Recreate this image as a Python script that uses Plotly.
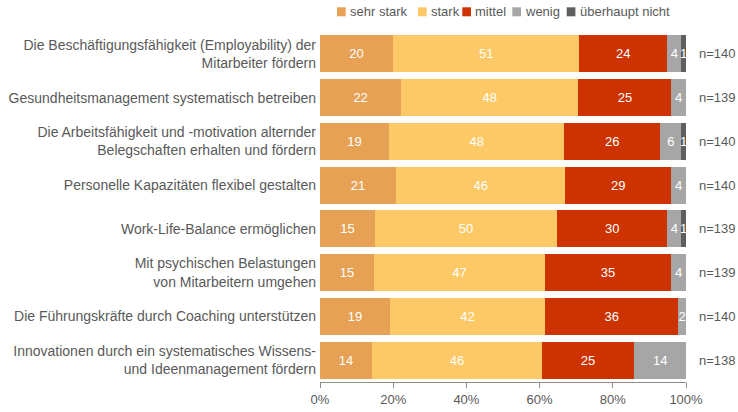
import plotly.graph_objects as go

categories = [
    "Die Beschäftigungsfähigkeit (Employability) der<br>Mitarbeiter fördern",
    "Gesundheitsmanagement systematisch betreiben",
    "Die Arbeitsfähigkeit und -motivation alternder<br>Belegschaften erhalten und fördern",
    "Personelle Kapazitäten flexibel gestalten",
    "Work-Life-Balance ermöglichen",
    "Mit psychischen Belastungen<br>von Mitarbeitern umgehen",
    "Die Führungskräfte durch Coaching unterstützen",
    "Innovationen durch ein systematisches Wissens-<br>und Ideenmanagement fördern",
]
series_names = ["sehr stark", "stark", "mittel", "wenig", "überhaupt nicht"]
sehr_stark = [20.0, 22.2, 18.9, 20.8, 15.0, 14.8, 19.1, 14.2]
stark = [50.8, 48.4, 47.8, 46.2, 49.8, 46.6, 42.4, 46.4]
mittel = [24.1, 25.4, 26.3, 29.0, 30.1, 34.6, 36.4, 25.3]
wenig = [3.8, 4.0, 5.7, 4.0, 3.8, 4.0, 2.1, 14.1]
ueberhaupt_nicht = [1.3, None, 1.3, None, 1.3, None, None, None]
n_values = [140, 139, 140, 140, 139, 139, 140, 138]
tick_values = [0, 20, 40, 60, 80, 100]
tick_labels = ["0%", "20%", "40%", "60%", "80%", "100%"]

colors = ["#E6A155", "#FDC966", "#CC3300", "#A6A6A6", "#5F5F5F"]
series = [sehr_stark, stark, mittel, wenig, ueberhaupt_nicht]

FONT = "Liberation Sans, Arial, sans-serif"
GREY = "#595959"

W, H = 738, 412
ML, MR, MT, MB = 320, 52, 32, 30
PW = W - ML - MR
PH = H - MT - MB

fig = go.Figure()
for name, vals, col in zip(series_names, series, colors):
    fig.add_trace(go.Bar(
        y=categories, x=vals, name=name, orientation="h",
        marker=dict(color=col, line=dict(width=0)),
        texttemplate="%{x:.0f}", textposition="inside",
        insidetextanchor="middle",
        textfont=dict(color="white", size=13, family=FONT),
        showlegend=False, hoverinfo="x+name",
    ))

# n= annotations
for cat, n in zip(categories, n_values):
    fig.add_annotation(x=1.03, xref="paper", y=cat, yref="y", text=f"n={n}",
                       showarrow=False, xanchor="left",
                       font=dict(size=13, color=GREY, family=FONT))

# custom legend (pixel layout)
def px_x(p):
    return (p - ML) / PW

def px_y(p):
    return (H - MB - p) / PH

legend_px = [337, 418, 462.3, 512.3, 566.7]
for name, col, lx in zip(series_names, colors, legend_px):
    fig.add_shape(type="rect", xref="paper", yref="paper",
                  x0=px_x(lx), x1=px_x(lx + 8.7), y0=px_y(16.3), y1=px_y(7.3),
                  fillcolor=col, line=dict(width=0))
    fig.add_annotation(x=px_x(lx + 11), xref="paper", y=px_y(12), yref="paper",
                       text=name, showarrow=False, xanchor="left", yanchor="middle",
                       font=dict(size=13, color=GREY, family=FONT))

fig.update_layout(
    barmode="stack", bargap=0.15,
    width=W, height=H,
    margin=dict(l=ML, r=MR, t=MT, b=MB, pad=0, autoexpand=False),
    paper_bgcolor="white", plot_bgcolor="white",
    font=dict(family=FONT, size=13, color=GREY),
    uniformtext=dict(minsize=13, mode="show"),
    xaxis=dict(range=[0, 100], tickmode="array", tickvals=tick_values,
               ticktext=tick_labels, automargin=False,
               showgrid=False, zeroline=False, showline=True,
               linecolor="#8C8C8C", linewidth=1, ticks="outside",
               ticklen=5, tickcolor="#8C8C8C",
               tickfont=dict(size=13, color=GREY, family=FONT)),
    yaxis=dict(autorange="reversed", showgrid=False, zeroline=False,
               showline=False, ticks="", ticklabelstandoff=3, automargin=False,
               tickfont=dict(size=14, color=GREY, family=FONT)),
)

fig.write_html("out.html", config={"displayModeBar": False},
               post_script="document.body.style.margin='0';")
